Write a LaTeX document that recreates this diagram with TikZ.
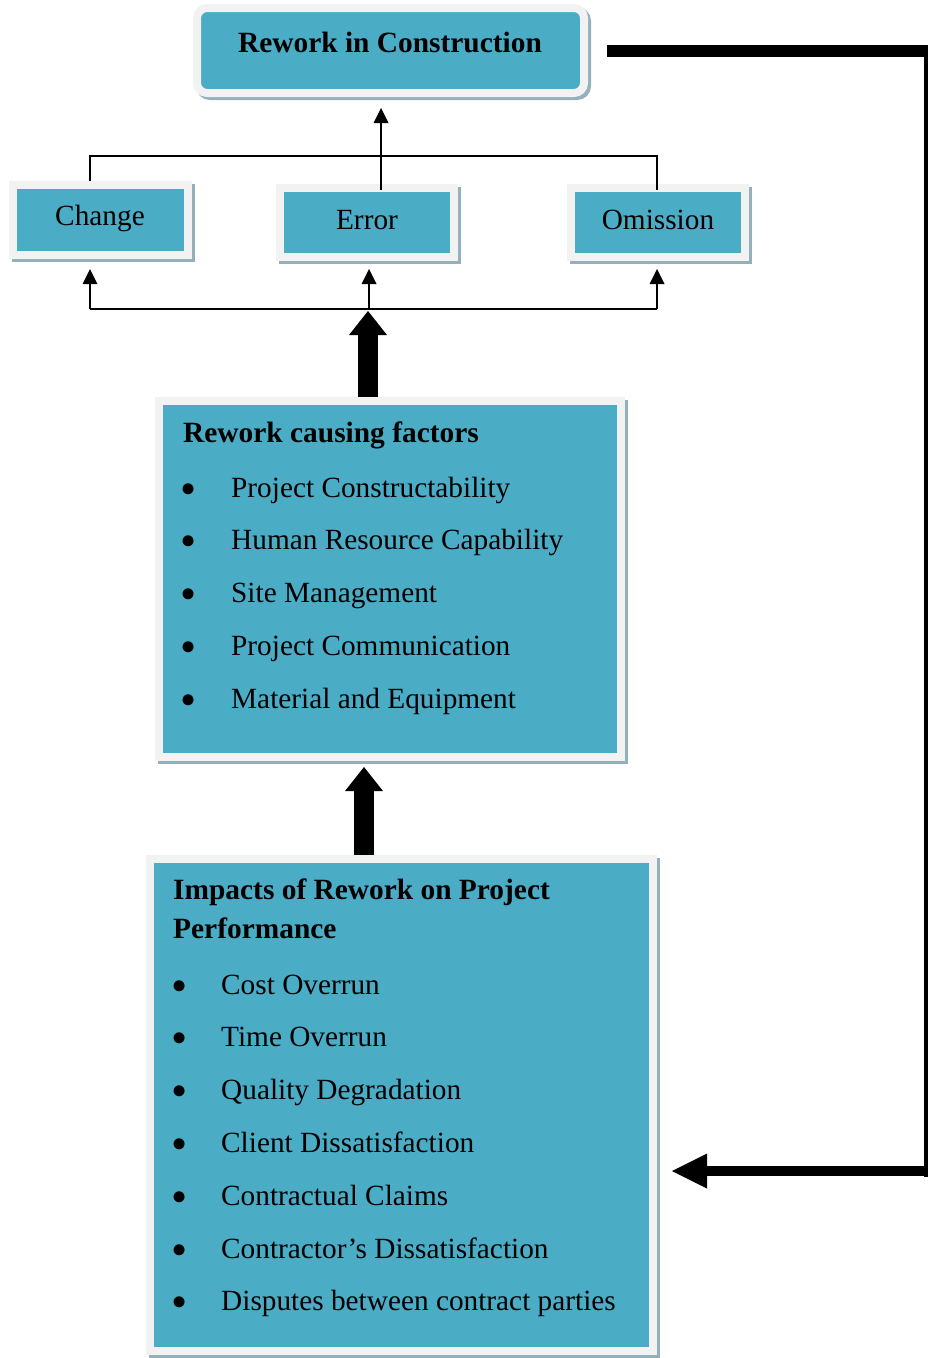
\documentclass[tikz,border=0pt]{standalone}
\usepackage{fontspec}
\setmainfont{Liberation Serif}
\usetikzlibrary{arrows.meta,shadows}
\definecolor{boxteal}{HTML}{4BACC6}
\definecolor{boxframe}{HTML}{F2F2F2}
\definecolor{boxshade}{RGB}{148,176,186}

\begin{document}
\begin{tikzpicture}[x=1pt,y=-1pt,
  panel/.style={fill=boxteal, draw=boxframe, line width=8pt, inner sep=0pt,
    general shadow={fill=boxshade, draw=boxshade, line width=8pt,
      shadow xshift=3pt, shadow yshift=-3pt}},
  txt/.style={font=\fontsize{29.3}{34}\selectfont, inner sep=0pt},
  boldtxt/.style={font=\fontsize{29.4}{34}\selectfont\bfseries, inner sep=0pt},
  dot/.style={font=\fontsize{46}{46}\selectfont, inner sep=0pt, anchor=base},
  conn/.style={draw=black, line width=2.5pt},
  smalltip/.style={-{Triangle[width=15pt,length=15pt,line width=0pt]}},
  bigarrow/.style={draw=black, line width=20pt,
    -{Triangle[width=38pt,length=24pt,line width=0pt]}},
]
\useasboundingbox (0,0) rectangle (929,1358);

% corner points of the feedback connector
\coordinate (fbtop) at (928,51);
\coordinate (fbbot) at (928,1171);

% boxes
\node[panel, rounded corners=10pt, minimum width=387pt, minimum height=85pt] (top) at (390.5,50.5) {};
\node[boldtxt, anchor=base] (toptxt) at (390,52) {Rework in Construction};

\node[panel, minimum width=175pt, minimum height=70pt] (chg) at (100.5,220) {};
\node[txt, anchor=base] (chgtxt) at (100,225) {Change};
\node[panel, minimum width=174pt, minimum height=69pt] (err) at (367,222.5) {};
\node[txt, anchor=base] (errtxt) at (367,229) {Error};
\node[panel, minimum width=174pt, minimum height=69pt] (omi) at (658,222.5) {};
\node[txt, anchor=base] (omitxt) at (658,229) {Omission};

\node[panel, minimum width=462pt, minimum height=356pt] (fac) at (390,579) {};
\node[panel, minimum width=503pt, minimum height=492pt] (imp) at (401.5,1105) {};

% text of the factors box
\node[boldtxt, anchor=base west] (factitle) at (183,442) {Rework causing factors};
\foreach \t [count=\i] in {Project Constructability, Human Resource Capability,
    Site Management, Project Communication, Material and Equipment} {
  \node[txt, anchor=base west] (fi\i) at (231,{497+52.75*(\i-1)}) {\t};
  \node[dot] (fd\i) at (189,{504+52.75*(\i-1)}) {\textbullet};
}

% text of the impacts box
\node[boldtxt, anchor=base west] (imptitle1) at (173,899) {Impacts of Rework on Project};
\node[boldtxt, anchor=base west] (imptitle2) at (173,938) {Performance};
\foreach \t [count=\i] in {Cost Overrun, Time Overrun, Quality Degradation,
    Client Dissatisfaction, Contractual Claims, Contractor’s Dissatisfaction,
    Disputes between contract parties} {
  \node[txt, anchor=base west] (ii\i) at (221,{994+52.8*(\i-1)}) {\t};
  \node[dot] (id\i) at (180,{1001+52.8*(\i-1)}) {\textbullet};
}

% upper tree: the three kinds of rework lead to the top box
\coordinate (cl) at (90,156);
\coordinate (cm) at (381,156);
\coordinate (cr) at (657,156);
\draw[conn] (chg.north -| cl) -- (cl) -- (cr) -- ([yshift=-6pt]omi.north -| cr);
\draw[conn, smalltip] ([yshift=-6pt]err.north -| cm) -- ([yshift=-11pt]top.south -| cm);

% lower tree: the factors feed the three kinds of rework
\coordinate (bl) at (90,309);
\coordinate (bm) at (369,309);
\coordinate (br) at (657,309);
\draw[conn] (bl) -- (br);
\draw[conn, smalltip] (bl) -- ([yshift=-10pt]chg.south -| bl);
\draw[conn, smalltip] (bm) -- ([yshift=-8pt]err.south -| bm);
\draw[conn, smalltip] (br) -- ([yshift=-8pt]omi.south -| br);

% thick arrows between the large boxes
\coordinate (up1) at (368,311);
\coordinate (up2) at (364,767);
\draw[bigarrow] (fac.north -| up1) -- (up1);
\draw[bigarrow] (imp.north -| up2) -- (up2);

% feedback connector
\draw[line width=12pt] ([xshift=19pt]top.east |- fbtop) -- (fbtop);
\draw[line width=4pt] ([yshift=6pt]fbtop) ++(-2,0) -- ([yshift=-6pt]fbbot -| 926,0);
\draw[line width=10pt, -{Triangle[width=35pt,length=35pt,line width=0pt]}]
  (fbbot) -- ([xshift=15pt]imp.east |- fbbot);
\end{tikzpicture}
\end{document}
